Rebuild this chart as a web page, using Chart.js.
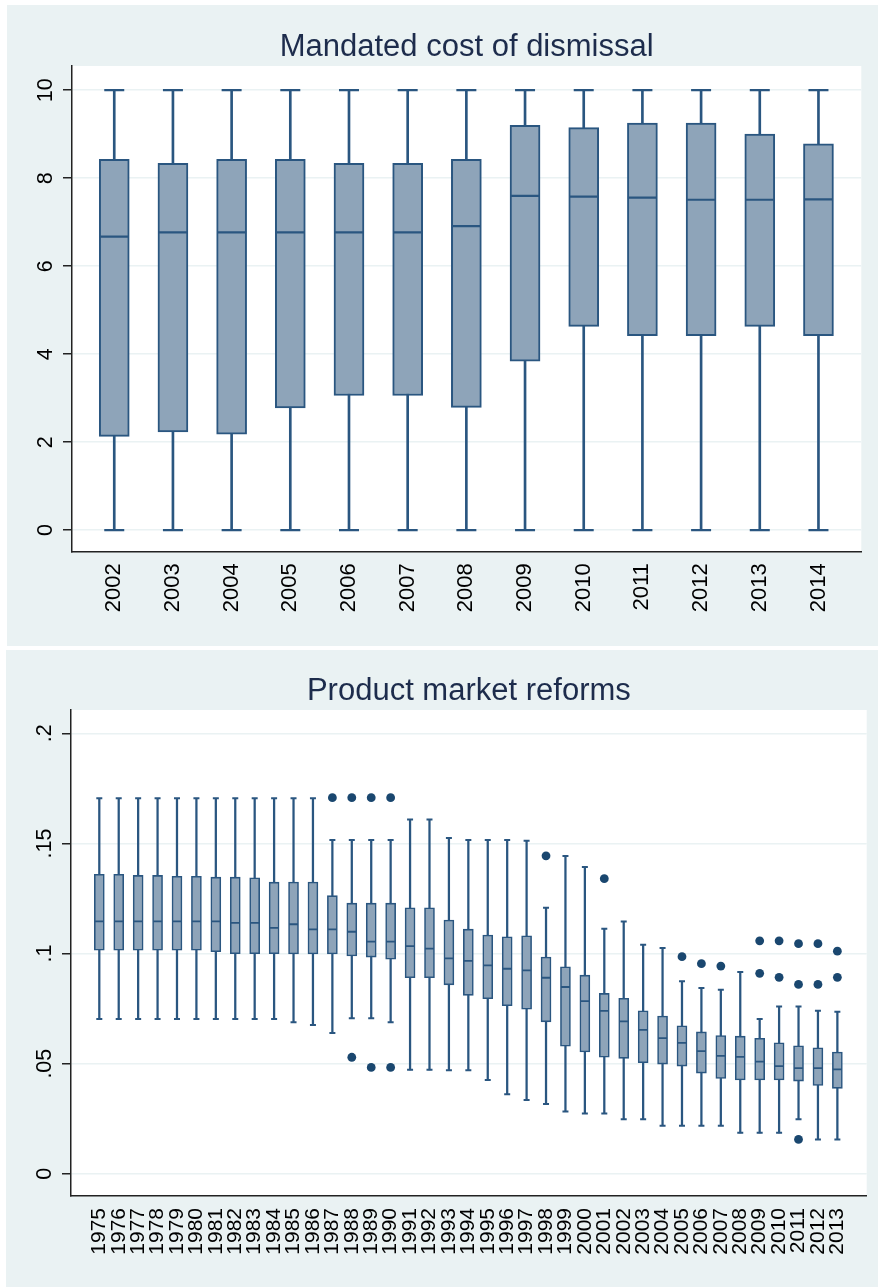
<!DOCTYPE html>
<html><head><meta charset="utf-8">
<script src="https://cdn.jsdelivr.net/npm/chart.js@4.4.1/dist/chart.umd.min.js"></script>
<style>
html,body{margin:0;padding:0;background:#fff;}
body{width:879px;height:1287px;position:relative;overflow:hidden;}
.panel{position:absolute;background:#eaf2f3;}
#p1{left:7px;top:5px;width:871px;height:641px;}
#p2{left:6px;top:650px;width:872px;height:637px;}
canvas{display:block;}
</style></head><body>
<div class="panel" id="p1"><canvas id="c1" width="871" height="641"></canvas></div>
<div class="panel" id="p2"><canvas id="c2" width="872" height="637"></canvas></div>
<script>
// ---- Data: Mandated cost of dismissal ----
const topYears = [2002,2003,2004,2005,2006,2007,2008,2009,2010,2011,2012,2013,2014];
const topLo  = [0,0,0,0,0,0,0,0,0,0,0,0,0];
const topQ1  = [2.13,2.23,2.18,2.78,3.06,3.06,2.79,3.84,4.63,4.42,4.42,4.63,4.42];
const topMed = [6.67,6.77,6.77,6.77,6.77,6.77,6.91,7.60,7.58,7.56,7.51,7.51,7.52];
const topQ3  = [8.43,8.34,8.43,8.43,8.34,8.34,8.43,9.20,9.15,9.25,9.25,9.00,8.78];
const topHi  = [10,10,10,10,10,10,10,10,10,10,10,10,10];
const topYTicks  = [0,2,4,6,8,10];
const topYLabels = ['0','2','4','6','8','10'];

// ---- Data: Product market reforms ----
const botYears = [1975,1976,1977,1978,1979,1980,1981,1982,1983,1984,1985,1986,1987,1988,1989,1990,1991,1992,1993,1994,1995,1996,1997,1998,1999,2000,2001,2002,2003,2004,2005,2006,2007,2008,2009,2010,2011,2012,2013];
const botLo  = [0.0703,0.0703,0.0703,0.0703,0.0703,0.0703,0.0703,0.0703,0.0703,0.0703,0.0688,0.0675,0.0639,0.0706,0.0706,0.0688,0.0472,0.0472,0.0470,0.0470,0.0426,0.0361,0.0335,0.0317,0.0283,0.0274,0.0274,0.0247,0.0247,0.0218,0.0218,0.0218,0.0218,0.0186,0.0186,0.0186,0.0247,0.0156,0.0156];
const botQ1  = [0.1015,0.1015,0.1015,0.1015,0.1015,0.1015,0.1008,0.0999,0.0999,0.0999,0.0998,0.0998,0.0998,0.0989,0.0984,0.0974,0.0890,0.0890,0.0858,0.0810,0.0795,0.0763,0.0747,0.0690,0.0579,0.0553,0.0529,0.0524,0.0504,0.0498,0.0489,0.0457,0.0433,0.0426,0.0426,0.0426,0.0421,0.0401,0.0388];
const botMed = [0.1146,0.1146,0.1146,0.1146,0.1146,0.1146,0.1146,0.1139,0.1139,0.1117,0.1133,0.1110,0.1110,0.1099,0.1054,0.1054,0.1034,0.1022,0.0978,0.0967,0.0946,0.0931,0.0924,0.0890,0.0848,0.0784,0.0740,0.0692,0.0653,0.0616,0.0594,0.0557,0.0535,0.0531,0.0509,0.0489,0.0480,0.0480,0.0474];
const botQ3  = [0.1360,0.1360,0.1355,0.1355,0.1351,0.1351,0.1347,0.1347,0.1344,0.1324,0.1325,0.1325,0.1263,0.1229,0.1229,0.1229,0.1208,0.1208,0.1152,0.1111,0.1084,0.1076,0.1081,0.0984,0.0940,0.0902,0.0819,0.0797,0.0740,0.0716,0.0672,0.0644,0.0628,0.0625,0.0615,0.0595,0.0581,0.0572,0.0553];
const botHi  = [0.1705,0.1705,0.1705,0.1705,0.1705,0.1705,0.1705,0.1705,0.1705,0.1705,0.1705,0.1705,0.1516,0.1516,0.1516,0.1516,0.1609,0.1609,0.1525,0.1516,0.1516,0.1516,0.1512,0.1208,0.1443,0.1393,0.1113,0.1146,0.1040,0.1025,0.0874,0.0843,0.0836,0.0916,0.0703,0.0760,0.0760,0.0740,0.0736];
const botOutYears = [1987,1988,1989,1990,1988,1989,1990,1998,2001,2005,2006,2007,2009,2009,2010,2010,2011,2011,2011,2012,2012,2013,2013];
const botOutVals  = [0.1708,0.1708,0.1708,0.1708,0.0529,0.0483,0.0483,0.1444,0.1340,0.0986,0.0954,0.0943,0.1058,0.0910,0.1058,0.0892,0.1045,0.0860,0.0156,0.1045,0.0860,0.1011,0.0892];
const botYTicks  = [0,0.05,0.1,0.15,0.2];
const botYLabels = ['0','.05','.1','.15','.2'];

// ---- Styles ----
const FONT = '"Liberation Sans", Arial, Helvetica, sans-serif';
const FILL = '#8ea4b9';
const LINE = '#2a5680';
const DOT  = '#1a476f';
const GRID = '#eaf2f3';
const AXIS = '#222222';
const TITLE = '#1d2c4c';

const plotBg = {
  id: 'plotBg',
  beforeDraw(chart) {
    const {ctx, chartArea: a} = chart;
    ctx.save();
    ctx.fillStyle = '#ffffff';
    ctx.fillRect(a.left, a.top, a.right - a.left, a.bottom - a.top);
    ctx.restore();
  }
};

function boxChart(id, d, s) {
  const idx = d.years.map((_, i) => i);
  const caps = idx.map(i => ({x: i, y: d.lo[i]})).concat(idx.map(i => ({x: i, y: d.hi[i]})));
  const datasets = [
    {type: 'bar', label: 'whisker', data: idx.map(i => ({x: i, y: [d.lo[i], d.hi[i]]})),
     backgroundColor: LINE, borderWidth: 0, barThickness: s.whiskerW, grouped: false, order: 4},
    {type: 'bar', label: 'box', data: idx.map(i => ({x: i, y: [d.q1[i], d.q3[i]]})),
     backgroundColor: FILL, borderColor: LINE, borderWidth: s.boxBorder, borderSkipped: false,
     barThickness: s.boxW, grouped: false, order: 3},
    {type: 'scatter', label: 'median', data: idx.map(i => ({x: i, y: d.med[i]})),
     pointStyle: 'line', pointRadius: s.boxW / 2 - 0.5, pointHoverRadius: s.boxW / 2 - 0.5,
     pointBorderColor: LINE, pointBorderWidth: s.medW, borderColor: LINE, borderWidth: s.medW, order: 2},
    {type: 'scatter', label: 'caps', data: caps,
     pointStyle: 'line', pointRadius: s.capW / 2, pointHoverRadius: s.capW / 2,
     pointBorderColor: LINE, pointBorderWidth: s.capLW, borderColor: LINE, borderWidth: s.capLW, order: 1}
  ];
  if (d.outYears) {
    datasets.push({type: 'scatter', label: 'outliers',
      data: d.outYears.map((yr, k) => ({x: d.years.indexOf(yr), y: d.outVals[k]})),
      pointStyle: 'circle', pointRadius: s.outR, pointHoverRadius: s.outR,
      pointBackgroundColor: DOT, pointBorderColor: DOT, pointBorderWidth: 0, order: 0});
  }
  return new Chart(document.getElementById(id), {
    type: 'bar',
    data: {datasets},
    plugins: [plotBg],
    options: {
      responsive: false, animation: false, devicePixelRatio: 1, events: [],
      layout: {padding: {left: 0, right: s.padR, top: 0, bottom: 0}},
      plugins: {
        legend: {display: false}, tooltip: {enabled: false},
        title: {display: true, text: d.title, fullSize: false, color: TITLE,
                font: {family: FONT, size: 31, weight: 'normal'},
                padding: {top: s.tTop, bottom: s.tBot}}
      },
      scales: {
        x: {type: 'linear', min: s.xMin, max: s.xMax, offset: false, bounds: 'data',
            afterBuildTicks: sc => { sc.ticks = idx.map(i => ({value: i})); },
            afterFit: sc => { sc.height = s.xAxisH; },
            grid: {display: false, drawTicks: false, offset: false},
            border: {display: true, color: AXIS, width: 1.5},
            ticks: {autoSkip: false, minRotation: 90, maxRotation: 90, padding: s.xPad, color: '#000',
                    font: {family: FONT, size: s.xFont}, callback: (v, i) => String(d.years[i])}},
        y: {type: 'linear', min: s.yMin, max: s.yMax, beginAtZero: false, bounds: 'data',
            afterBuildTicks: sc => { sc.ticks = d.yTicks.map(v => ({value: v})); },
            afterFit: sc => { sc.width = s.yAxisW; },
            grid: {color: GRID, lineWidth: 1.5, tickColor: AXIS, tickLength: 9, tickWidth: 1.5, drawTicks: true},
            border: {display: true, color: AXIS, width: 1.5},
            ticks: {minRotation: 90, maxRotation: 90, crossAlign: 'center', padding: s.yPad, color: '#000',
                    font: {family: FONT, size: 21.5}, callback: (v, i) => d.yLabels[i]}}
      }
    }
  });
}

boxChart('c1',
  {title: 'Mandated cost of dismissal', years: topYears, lo: topLo, q1: topQ1, med: topMed, q3: topQ3, hi: topHi,
   yTicks: topYTicks, yLabels: topYLabels},
  {xMin: -0.72, xMax: 12.73, yMin: -0.49, yMax: 10.55, boxW: 30, capW: 20, whiskerW: 2, boxBorder: 2,
   medW: 2.2, capLW: 2.2, yAxisW: 65, xAxisH: 94.3, xPad: 11.5, xFont: 22, yPad: 5, padR: 12, tTop: 23.4, tBot: 0.4});

boxChart('c2',
  {title: 'Product market reforms', years: botYears, lo: botLo, q1: botQ1, med: botMed, q3: botQ3, hi: botHi,
   outYears: botOutYears, outVals: botOutVals, yTicks: botYTicks, yLabels: botYLabels},
  {xMin: -1.457, xMax: 39.51, yMin: -0.0101, yMax: 0.2106, boxW: 10, capW: 6, whiskerW: 1.6, boxBorder: 1.6,
   medW: 1.8, capLW: 2, outR: 4.4, yAxisW: 65, xAxisH: 91, xPad: 12, xFont: 21, yPad: 1.5, padR: 11.3, tTop: 22.4, tBot: 0.4});
</script></body></html>
